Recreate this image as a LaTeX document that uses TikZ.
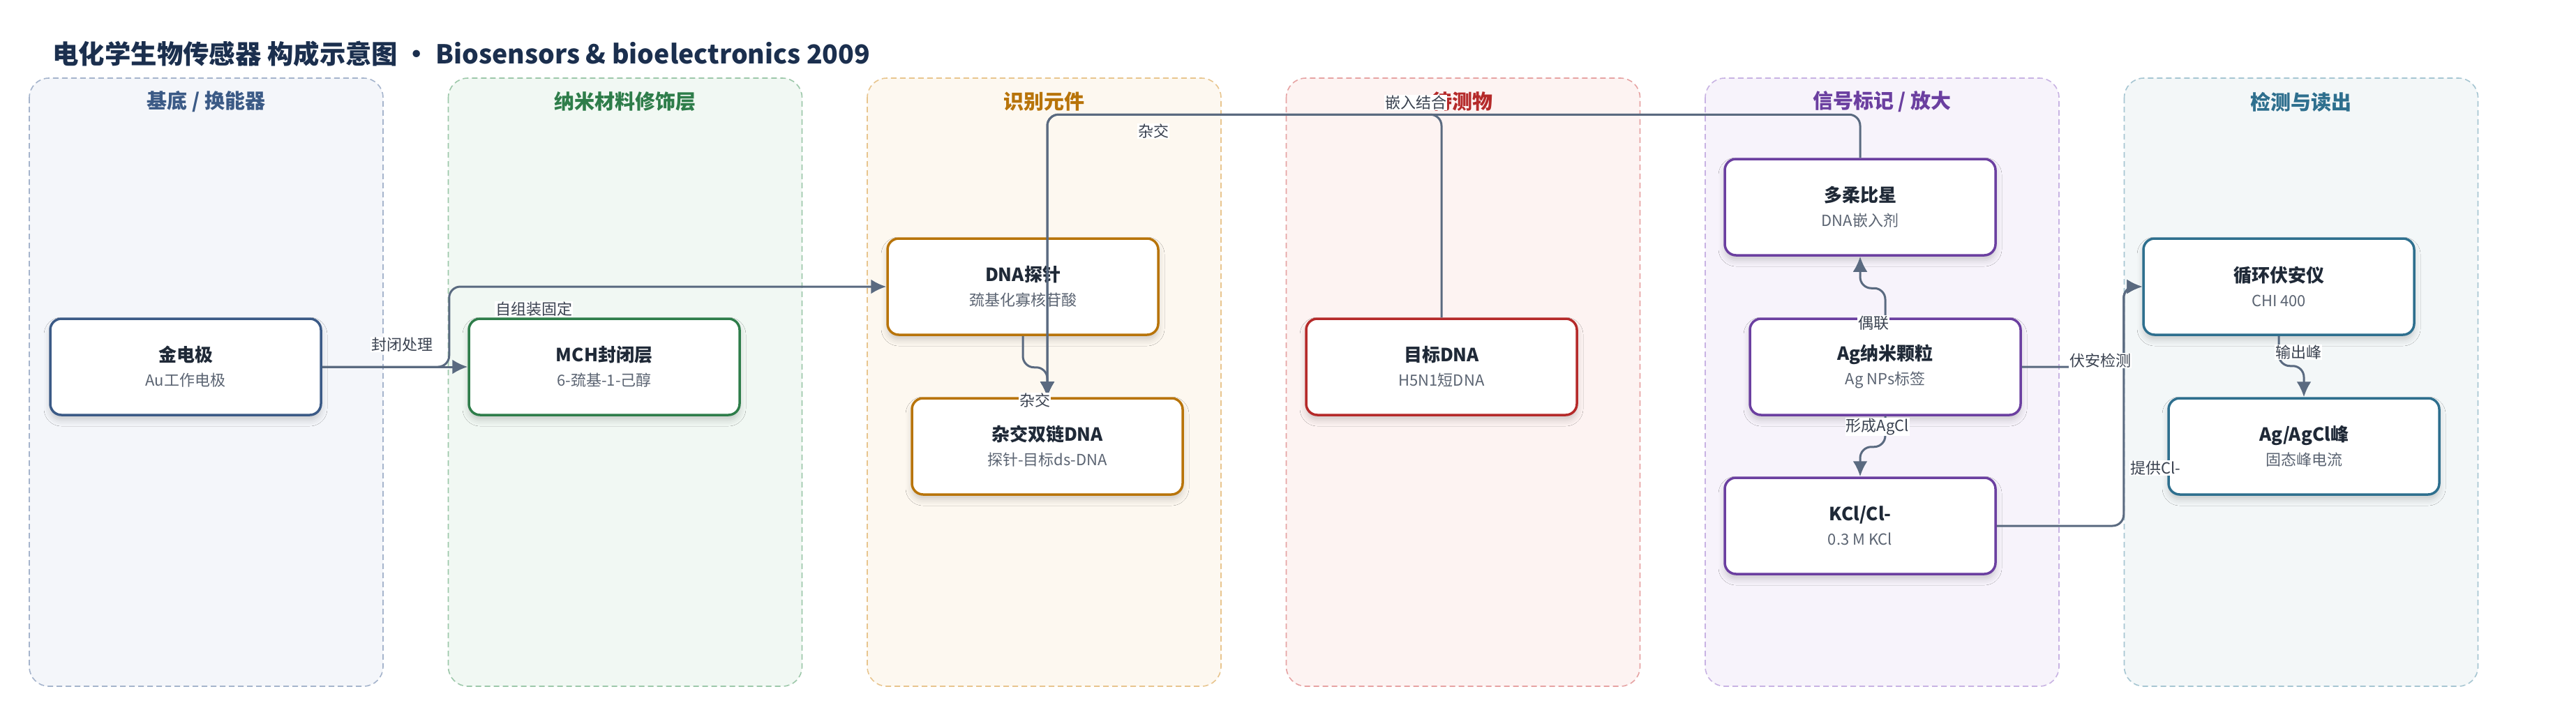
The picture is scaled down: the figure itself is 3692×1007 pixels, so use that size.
\documentclass[tikz,border=0pt]{standalone}
\usepackage{fontspec}
\setmainfont{Noto Sans CJK SC}
\usetikzlibrary{arrows.meta,shadows.blur}

\definecolor{ink}{HTML}{1F2937}
\definecolor{subgray}{HTML}{5B6472}
\definecolor{edgegray}{HTML}{5A6A80}
\definecolor{labelgray}{HTML}{3A4250}
\definecolor{headnavy}{HTML}{1B2F4E}
\definecolor{blueC}{HTML}{3B5A86}
\definecolor{blueL}{HTML}{A5B4CC}
\definecolor{blueF}{HTML}{F4F6FA}
\definecolor{greenC}{HTML}{2E7D4A}
\definecolor{greenL}{HTML}{9DC8AA}
\definecolor{greenF}{HTML}{F1F8F3}
\definecolor{orangeC}{HTML}{B8740A}
\definecolor{orangeL}{HTML}{E8C58E}
\definecolor{orangeF}{HTML}{FDF8F0}
\definecolor{redC}{HTML}{B52A2A}
\definecolor{redL}{HTML}{E6A3A3}
\definecolor{redF}{HTML}{FDF3F2}
\definecolor{purpleC}{HTML}{6B3FA0}
\definecolor{purpleL}{HTML}{C8B3E3}
\definecolor{purpleF}{HTML}{F7F3FB}
\definecolor{tealC}{HTML}{2E6F8E}
\definecolor{tealL}{HTML}{A6C6D2}
\definecolor{tealF}{HTML}{F3F7F8}

\newcommand{\boxtext}[2]{{\fontsize{26}{35}\bfseries\selectfont\color{ink}#1}\\{\color{subgray}#2}}

\begin{document}
\begin{tikzpicture}[x=1pt, y=-1pt,
        lane/.style 2 args={draw=#1, fill=#2, line width=1.6pt,
          dash pattern=on 8pt off 5pt, rounded corners=28pt},
        lanetitle/.style={font=\fontsize{29}{34}\bfseries\selectfont, text=#1},
        box/.style={draw=#1, fill=white, line width=3.5pt, rounded corners=16pt,
          minimum width=388pt, minimum height=138pt, align=center,
          font=\fontsize{22}{35}\selectfont,
          blur shadow={shadow xshift=0pt, shadow yshift=-7pt,
            shadow blur radius=9pt, shadow opacity=18}},
        elabel/.style={fill=white, inner sep=1pt, text=labelgray,
          font=\fontsize{22}{26}\selectfont},
        edge/.style={draw=edgegray, line width=3pt, rounded corners=16pt},
        >={Latex[length=22pt,width=21pt]}]
        \fill[white] (0,0) rectangle (3692,1007);
        \useasboundingbox (0,0) rectangle (3692,1007);

        % heading
        \node (head) at (72,77) [anchor=west, text=headnavy,
          font=\fontsize{37.4}{44}\bfseries\selectfont]
          {电化学生物传感器 构成示意图 • Biosensors \& bioelectronics 2009};

        % lanes
        \draw[lane={blueL}{blueF}] (42,112) rectangle (549,984);
        \draw[lane={greenL}{greenF}] (642.5,112) rectangle (1149.5,984);
        \draw[lane={orangeL}{orangeF}] (1243,112) rectangle (1750,984);
        \draw[lane={redL}{redF}] (1843.5,112) rectangle (2350.5,984);
        \draw[lane={purpleL}{purpleF}] (2444,112) rectangle (2951,984);
        \draw[lane={tealL}{tealF}] (3044.5,112) rectangle (3551.5,984);
        \node (tA) at (295.5,146) [lanetitle=blueC] {基底 / 换能器};
        \node (tB) at (896,146) [lanetitle=greenC] {纳米材料修饰层};
        \node (tC) at (1496.5,146) [lanetitle=orangeC] {识别元件};
        \node (tD) at (2096,146) [lanetitle=redC] {待测物};
        \node (tE) at (2697.5,146) [lanetitle=purpleC] {信号标记 / 放大};
        \node (tF) at (3298,146) [lanetitle=tealC] {检测与读出};

        % nodes
        \node (au) at (266,526) [box=blueC] {\boxtext{金电极}{Au工作电极}};
        \node (mch) at (866,526) [box=greenC] {\boxtext{MCH封闭层}{6-巯基-1-己醇}};
        \node (probe) at (1466,411) [box=orangeC] {\boxtext{DNA探针}{巯基化寡核苷酸}};
        \node (hyb) at (1501,640) [box=orangeC] {\boxtext{杂交双链DNA}{探针-目标ds-DNA}};
        \node (target) at (2066,526) [box=redC] {\boxtext{目标DNA}{H5N1短DNA}};
        \node (dox) at (2666,297) [box=purpleC] {\boxtext{多柔比星}{DNA嵌入剂}};
        \node (agnp) at (2702,526) [box=purpleC] {\boxtext{Ag纳米颗粒}{Ag NPs标签}};
        \node (kcl) at (2666,754) [box=purpleC] {\boxtext{KCl/Cl-}{0.3 M KCl}};
        \node (cv) at (3266,411) [box=tealC] {\boxtext{循环伏安仪}{CHI 400}};
        \node (peak) at (3302,640) [box=tealC] {\boxtext{Ag/AgCl峰}{固态峰电流}};

        % connectors
        \draw[edge,->] (au.east) -- (mch.west);
        \draw[edge,->] (au.east) -- ++(182,0) |- (probe.west);
        \draw[edge,->] (probe.south) -- ++(0,45) -| (hyb.north);
        \draw[edge,->] (target.north) -- ++(0,-291) -| (hyb.north);
        \draw[edge,->] (dox.north) -- ++(0,-62) -| (hyb.north);
        \draw[edge,->] (agnp.north) -- ++(0,-42) -| (dox.south);
        \draw[edge,->] (agnp.south) -- ++(0,44) -| (kcl.north);
        \draw[edge,->] (agnp.east) -- ++(146,0) |- (cv.west);
        \draw[edge,->] (kcl.east) -- ++(182,0) |- (cv.west);
        \draw[edge,->] (cv.south) -- ++(0,43) -| (peak.north);

        % connector labels
        \node (l1) at (576,494) [elabel] {封闭处理};
        \node (l2) at (765,443) [elabel] {自组装固定};
        \node (l3) at (1483,574) [elabel] {杂交};
        \node (l4) at (1653,188) [elabel] {杂交};
        \node (l5) at (2029,147) [elabel] {嵌入结合};
        \node (l6) at (2685,463) [elabel] {偶联};
        \node (l7) at (2691,612) [elabel] {形成AgCl};
        \node (l8) at (3010,517) [elabel] {伏安检测};
        \node (l9) at (3089,671) [elabel] {提供Cl-};
        \node (l10) at (3294,505) [elabel] {输出峰};
\end{tikzpicture}
\end{document}
